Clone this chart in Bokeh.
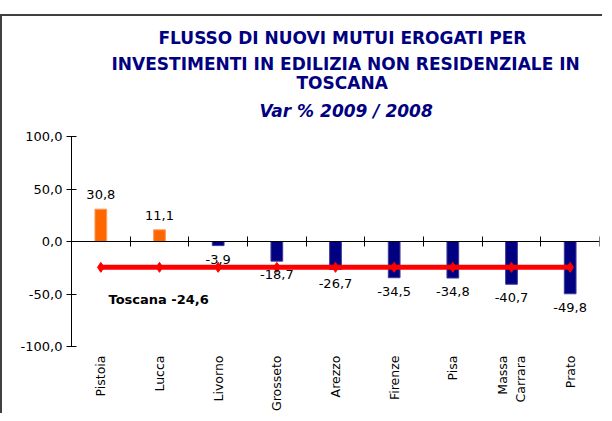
import math
from bokeh.plotting import figure
from bokeh.models import Range1d, LinearAxis, FixedTicker, ColumnDataSource, Title
from bokeh.core.properties import value
from bokeh.embed import file_html
from bokeh.resources import INLINE

# ---- data ----
provinces = ["Pistoia", "Lucca", "Livorno", "Grosseto", "Arezzo", "Firenze",
             "Pisa", "Massa Carrara", "Prato"]
province_tick_labels = ["Pistoia", "Lucca", "Livorno", "Grosseto", "Arezzo",
                        "Firenze", "Pisa", "Massa\nCarrara", "Prato"]
var_pct = [30.8, 11.1, -3.9, -18.7, -26.7, -34.5, -34.8, -40.7, -49.8]
toscana_line = [-24.6, -24.6, -24.6, -24.6, -24.6, -24.6, -24.6, -24.6, -24.6]
toscana_label = "Toscana -24,6"
y_ticks = [-100, -50, 0, 50, 100]
y_tick_labels = ["-100,0", "-50,0", "0,0", "50,0", "100,0"]
title_lines = ["FLUSSO DI NUOVI MUTUI EROGATI PER",
               "INVESTIMENTI IN EDILIZIA NON RESIDENZIALE IN",
               "TOSCANA"]
subtitle = "Var % 2009 / 2008"

# ---- styling ----
FONT = "DejaVu Sans"
NAVY = "#000080"
ORANGE = "#FF6600"
RED = "#FF0000"
BORDER = "#404040"

n = len(provinces)
centers = [i + 0.5 for i in range(n)]
boundaries = [i + 1 for i in range(n)]


def fmt(v):
    return f"{v:.1f}".replace(".", ",")


src = ColumnDataSource(dict(
    x=centers, v=var_pct,
    fill=[ORANGE if v >= 0 else NAVY for v in var_pct],
    edge=["#FF9A5C" if v >= 0 else "#3C3C9C" for v in var_pct],
))
pos_idx = [i for i, v in enumerate(var_pct) if v >= 0]
neg_idx = [i for i, v in enumerate(var_pct) if v < 0]
pos_src = ColumnDataSource(dict(x=[centers[i] for i in pos_idx],
                                v=[var_pct[i] for i in pos_idx],
                                t=[fmt(var_pct[i]) for i in pos_idx]))
neg_src = ColumnDataSource(dict(x=[centers[i] for i in neg_idx],
                                v=[var_pct[i] for i in neg_idx],
                                t=[fmt(var_pct[i]) for i in neg_idx]))
line_src = ColumnDataSource(dict(x=centers, y=toscana_line))

p = figure(width=602, height=405,
           x_range=Range1d(0, n), y_range=Range1d(y_ticks[0], y_ticks[-1]),
           output_backend="svg", toolbar_location=None,
           min_border_left=71, min_border_right=3,
           min_border_top=128, min_border_bottom=65)
# chart-area frame (top and left edges visible in the reference)
p.styles = {
    "transform": "translateY(8px)",
    "background": (f"linear-gradient({BORDER},{BORDER}) 0px 6px / 100% 2px no-repeat, "
                   f"linear-gradient({BORDER},{BORDER}) 0px 6px / 2px 100% no-repeat, "
                   "white"),
}
p.grid.visible = False
p.outline_line_color = None
p.background_fill_color = None
p.border_fill_color = None

# titles (first added = closest to plot)
p.add_layout(Title(text=subtitle, align="left", offset=188,
                   text_font=FONT, text_font_size="17px",
                   text_font_style="bold italic", text_color=NAVY,
                   standoff=32), "above")
title_standoffs = [-6, 14, -20]
title_offsets = [87, 40, 225]
for line, so, off in reversed(list(zip(title_lines, title_standoffs, title_offsets))):
    p.add_layout(Title(text=line, align="left", offset=off,
                       text_font=FONT, text_font_size="17px",
                       text_font_style="bold", text_color=NAVY,
                       standoff=so), "above")

# bottom axis: category names
xa = p.xaxis[0]
xa.ticker = FixedTicker(ticks=centers)
xa.major_label_overrides = {c: lab for c, lab in zip(centers, province_tick_labels)}
xa.major_label_orientation = math.pi / 2
xa.axis_line_color = None
xa.major_tick_line_color = None
xa.minor_tick_line_color = None
xa.major_tick_out = 0
xa.major_tick_in = 0
xa.major_label_standoff = 9
xa.major_label_text_font = FONT
xa.major_label_text_font_size = "12.5px"
xa.major_label_text_color = "black"

# zero line axis with ticks between categories
zero_axis = LinearAxis(fixed_location=0, ticker=FixedTicker(ticks=boundaries),
                       major_tick_in=5, major_tick_out=5,
                       major_label_overrides={b: "" for b in boundaries},
                       major_label_standoff=0,
                       axis_line_color="black", major_tick_line_color="black",
                       minor_tick_line_color=None)
p.add_layout(zero_axis, "below")

# y axis
ya = p.yaxis[0]
ya.ticker = FixedTicker(ticks=y_ticks)
ya.major_label_overrides = {t: l for t, l in zip(y_ticks, y_tick_labels)}
ya.major_tick_in = 5
ya.major_tick_out = 5
ya.minor_tick_line_color = None
ya.major_label_standoff = 4
ya.major_label_text_font = FONT
ya.major_label_text_font_size = "13px"
ya.major_label_text_color = "black"
ya.axis_line_color = "black"
ya.major_tick_line_color = "black"

# bars
p.vbar(x="x", top="v", bottom=0, width=0.2, source=src,
       fill_color="fill", line_color="edge", line_width=1)

# Toscana line
p.line(x="x", y="y", source=line_src, line_color=RED, line_width=5)
p.scatter(x="x", y="y", source=line_src, marker="diamond", size=10,
          fill_color=RED, line_color=RED)

# value labels
p.text(x="x", y="v", text="t", source=pos_src, text_align="center",
       text_baseline="bottom", y_offset=-10, text_font=value(FONT),
       text_font_size="13px", text_color="black")
p.text(x="x", y="v", text="t", source=neg_src, text_align="center",
       text_baseline="top", y_offset=9, text_font=value(FONT),
       text_font_size="13px", text_color="black")

# Toscana label
p.text(x=[0], y=[toscana_line[0]], text=[toscana_label], text_align="left",
       text_baseline="middle", x_offset=37, y_offset=32,
       text_font=value(FONT), text_font_size="13px",
       text_font_style="bold", text_color="black")

open("out.html", "w").write(file_html(p, INLINE))
